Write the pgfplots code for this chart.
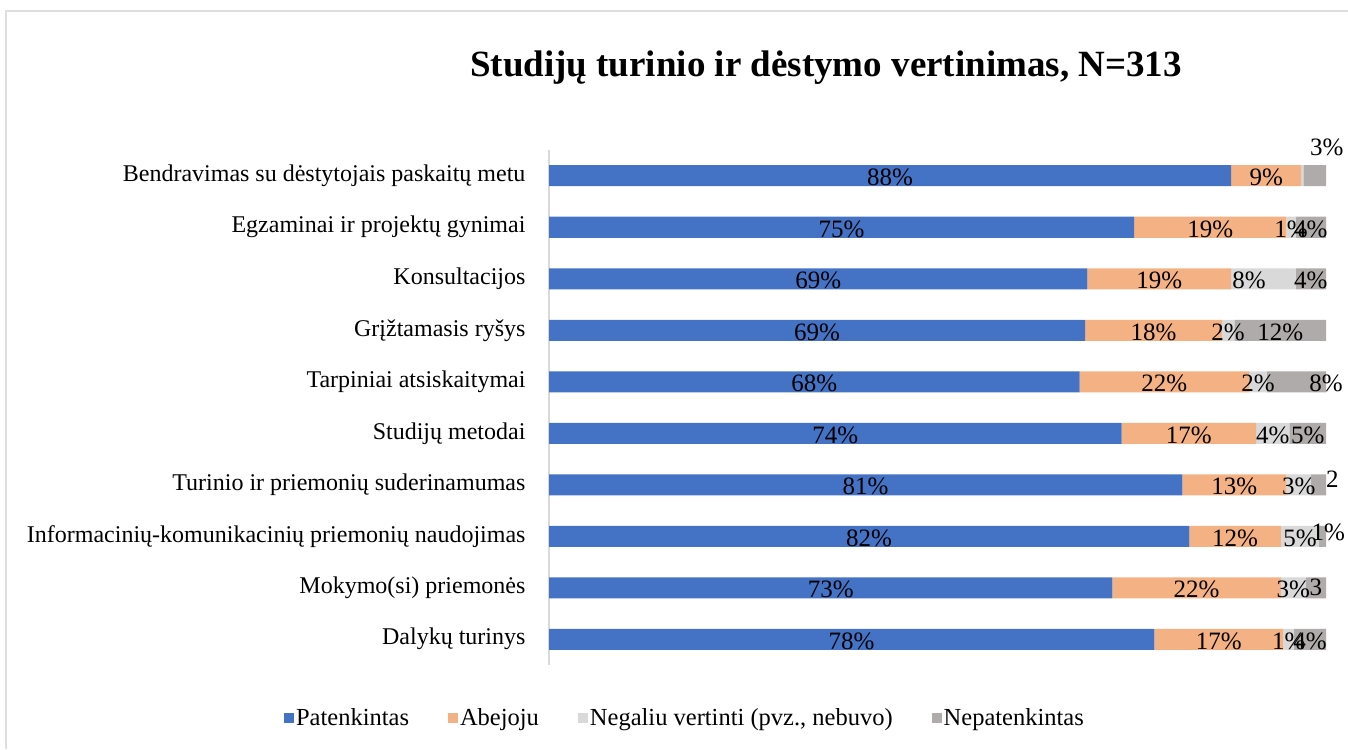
\documentclass[border=0pt]{standalone}
\usepackage{pgfplots}
\pgfplotsset{compat=1.18}
\usepackage{fontspec}
\setmainfont{Liberation Serif}
\definecolor{cPat}{HTML}{4472C4}
\definecolor{cAbe}{HTML}{F4B183}
\definecolor{cNeg}{HTML}{D9D9D9}
\definecolor{cNep}{HTML}{AFABAB}
\newcommand{\lbl}[1]{\edef\mylbl{#1}\def\myn{n}\ifx\mylbl\myn\else\mylbl\%\fi}
\begin{document}
\begin{tikzpicture}
\path[use as bounding box] (0pt,0pt) rectangle (1348pt,749pt);
\draw[gray!25, line width=2pt] (6pt,0pt) -- (6pt,738pt) -- (1348pt,738pt);
\node[font=\bfseries\fontsize{37}{42}\selectfont] at (826pt,681pt) {Studijų turinio ir dėstymo vertinimas, N=313};
\begin{axis}[
  at={(549pt,84pt)}, anchor=south west,
  scale only axis, width=777pt, height=515pt,
  xbar stacked, bar width=21pt,
  xmin=0, xmax=100, ymin=-0.5, ymax=9.5,
  y dir=reverse,
  axis x line=none,
  axis y line*=left,
  y axis line style={gray!30, line width=1.5pt, -},
  ytick={0,...,9},
  yticklabels={Bendravimas su dėstytojais paskaitų metu, Egzaminai ir projektų gynimai, Konsultacijos, Grįžtamasis ryšys, Tarpiniai atsiskaitymai, Studijų metodai, Turinio ir priemonių suderinamumas, Informacinių-komunikacinių priemonių naudojimas, Mokymo(si) priemonės, Dalykų turinys},
  major tick length=0pt,
  yticklabel style={font=\fontsize{24}{27}\selectfont, anchor=east, xshift=-20pt},
  point meta=explicit symbolic,
  nodes near coords={\lbl{\pgfplotspointmeta}},
  nodes near coords align={center},
  every node near coord/.append style={font=\fontsize{25}{28}\selectfont, text=black, yshift=-2pt},
  legend columns=4,
  legend style={at={(0.175,-0.103)}, anchor=center, draw=none, font=\fontsize{24.5}{28}\selectfont,
    /tikz/every even column/.append style={column sep=37pt}},
  legend image code/.code={\fill[#1, draw=none] (0pt,-5pt) rectangle (10pt,5pt);},
  clip=false,
]
\addplot[fill=cPat, draw=none] coordinates {
(87.8,0) [88] (75.3,1) [75] (69.3,2) [69] (69.0,3) [69] (68.3,4) [68]
(73.7,5) [74] (81.5,6) [81] (82.4,7) [82] (72.5,8) [73] (77.9,9) [78]};
\addlegendentry{Patenkintas}
\addplot[fill=cAbe, draw=none] coordinates {
(9.0,0) [9] (19.6,1) [19] (18.5,2) [19] (17.6,3) [18] (21.8,4) [22]
(17.3,5) [17] (13.4,6) [13] (11.8,7) [12] (21.7,8) [22] (16.6,9) [17]};
\addlegendentry{Abejoju}
\addplot[fill=cNeg, draw=none] coordinates {
(0.3,0) [n] (1.2,1) [1] (8.3,2) [n] (1.6,3) [2] (2.3,4) [2]
(4.3,5) [4] (3.2,6) [3] (4.9,7) [5] (3.2,8) [3] (1.4,9) [1]};
\addlegendentry{Negaliu vertinti (pvz., nebuvo)}
\addplot[fill=cNep, draw=none] coordinates {
(2.9,0) [n] (3.9,1) [4] (3.9,2) [4] (11.8,3) [12] (7.6,4) [n]
(4.7,5) [5] (1.9,6) [n] (0.9,7) [n] (2.6,8) [n] (4.1,9) [4]};
\addlegendentry{Nepatenkintas}
\coordinate (l1) at (axis cs:100.1,-0.55);
\coordinate (l3) at (axis cs:90.1,2);
\coordinate (l5) at (axis cs:100,4);
\coordinate (l7) at (axis cs:100,5.9);
\coordinate (l8) at (axis cs:100.3,6.92);
\coordinate (l9) at (axis cs:98.7,8);
\end{axis}
\node[font=\fontsize{25}{28}\selectfont] at (l1) {3\%};
\node[font=\fontsize{25}{28}\selectfont, yshift=-2pt] at (l3) {8\%};
\node[font=\fontsize{25}{28}\selectfont, yshift=-2pt] at (l5) {8\%};
\node[font=\fontsize{25}{28}\selectfont, anchor=west, inner sep=0pt] at (l7) {2};
\node[font=\fontsize{25}{28}\selectfont] at (l8) {1\%};
\node[font=\fontsize{25}{28}\selectfont] at (l9) {3};
\end{tikzpicture}
\end{document}
